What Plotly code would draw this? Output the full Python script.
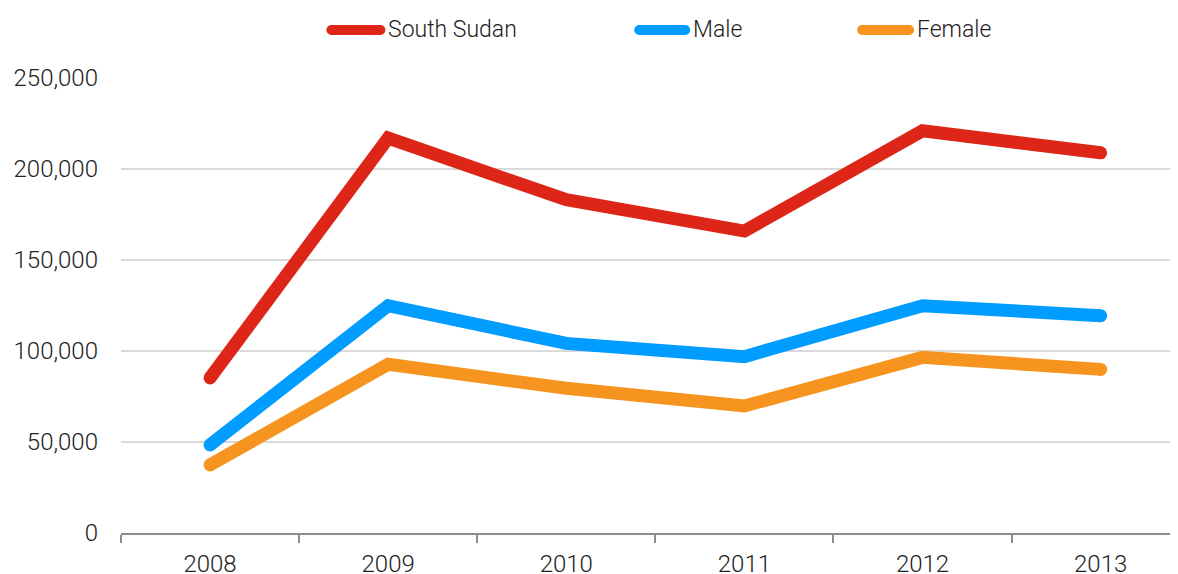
import plotly.graph_objects as go

years = ["2008", "2009", "2010", "2011", "2012", "2013"]
south_sudan = [85200, 217000, 183100, 165900, 221000, 208900]
male = [48400, 124900, 104200, 96900, 124900, 119400]
female = [37400, 92700, 79500, 69800, 96500, 89900]
series_names = ["South Sudan", "Male", "Female"]
colors = ["#DE2618", "#009CFF", "#F7941F"]

# page offsets (default body margin of the html page)
OX, OY = 8, 8
W, H = 1178 - OX, 574 - OY
L, R, T, B = 120.5 - OX, 0, 78 - OY, 41
plot_w = W - L - R
plot_h = H - T - B
FONT = "Roboto"
TXT = "#222222"

fig = go.Figure()
n = len(years)
cap_sizes = [13] + [0] * (n - 2) + [13]
for name, vals, col in zip(series_names, [south_sudan, male, female], colors):
    fig.add_trace(go.Scatter(
        x=years, y=vals, name=name, mode="lines+markers",
        line=dict(color=col, width=13),
        marker=dict(color=col, size=cap_sizes, opacity=1, line=dict(width=0)),
        showlegend=False, hoverinfo="x+y+name",
    ))

# manual legend (pixel positions in the page)
legend_items = [(326, 388), (634, 693), (857, 917)]
ly = 30
shapes = []
annotations = []
for (sx, tx), name, col in zip(legend_items, series_names, colors):
    px0 = (sx + 5 - OX - L) / plot_w
    px1 = (tx - 8 - OX - L) / plot_w
    py = (H - B - (ly - OY)) / plot_h
    shapes.append(dict(type="line", xref="paper", yref="paper",
                       x0=px0, x1=px1, y0=py, y1=py,
                       line=dict(color=col, width=10)))
    for cx in (px0, px1):
        shapes.append(dict(type="circle", xref="paper", yref="paper",
                           xsizemode="pixel", ysizemode="pixel",
                           xanchor=cx, yanchor=py,
                           x0=-5, x1=5, y0=-5, y1=5,
                           fillcolor=col, line=dict(width=0)))
    annotations.append(dict(text=name, xref="paper", yref="paper",
                            x=(tx - 2 - OX - L) / plot_w, y=py, xanchor="left",
                            yanchor="middle", showarrow=False,
                            font=dict(family=FONT, size=23, color=TXT, weight=300)))

fig.update_layout(
    width=W, height=H,
    margin=dict(l=L, r=R, t=T, b=B, pad=0, autoexpand=False),
    paper_bgcolor="white", plot_bgcolor="white",
    shapes=shapes, annotations=annotations,
    font=dict(family=FONT, size=24, color=TXT, weight=300),
    xaxis=dict(
        type="category", range=[-0.5, -0.5 + plot_w / 178.2], automargin=False,
        showgrid=False, showline=True, linecolor="#8c8c8c", linewidth=1.5,
        ticks="outside", tickson="boundaries", ticklen=8, tickwidth=1.5,
        tickcolor="#8c8c8c", ticklabelstandoff=8,
        tickfont=dict(family=FONT, size=24, color=TXT, weight=300),
        zeroline=False,
    ),
    yaxis=dict(
        range=[0, 250000], tickvals=[0, 50000, 100000, 150000, 200000, 250000],
        automargin=False,
        tickformat=",d", showgrid=True, gridcolor="#d9d9d9", gridwidth=1.5,
        zeroline=False, showline=False, ticks="", ticklabelstandoff=22,
        tickfont=dict(family=FONT, size=24, color=TXT, weight=300),
    ),
)

fig.write_html("out.html")
